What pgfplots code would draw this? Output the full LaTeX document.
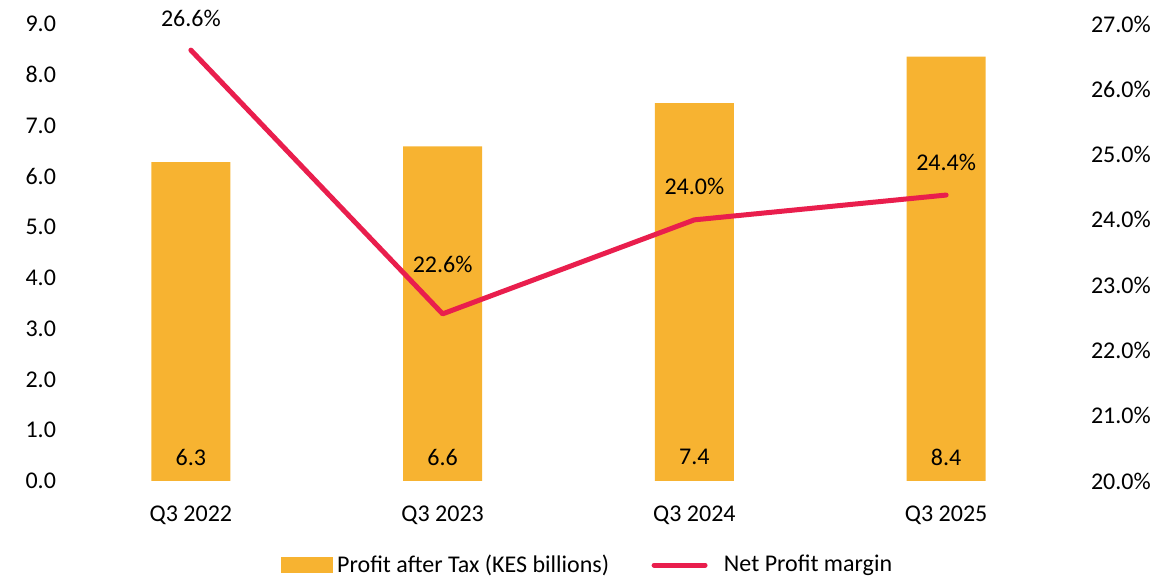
\documentclass[border=0pt]{standalone}
\usepackage{pgfplots}
\pgfplotsset{compat=1.18}
\usepackage{fontspec}
\setmainfont{Carlito}
\definecolor{barorange}{RGB}{247,179,49}
\definecolor{linered}{RGB}{233,30,77}

\pgfplotstableread{
x  pat
0  6.28
1  6.59
2  7.44
3  8.36
}\profit

\pgfplotstableread{
x  npm    off
0  26.60  16
1  22.56  24.5
2  24.00  16.5
3  24.38  16.5
}\margin

\begin{document}
\begin{tikzpicture}[font=\fontsize{12}{14}\selectfont]
\useasboundingbox (-32.5pt,-48pt) rectangle (545pt,240.5pt);
\pgfplotsset{
  base/.style={
    scale only axis, width=503.5pt, height=228.5pt,
    xmin=-0.5, xmax=3.5,
    axis line style={draw=none},
    major tick length=0pt,
    /pgf/number format/assume math mode=true,
    clip=false,
  }
}
\begin{axis}[base,
  ymin=0, ymax=9, ytick={0,1,...,9},
  yticklabel={\pgfmathprintnumber[fixed,fixed zerofill,precision=1]{\tick}},
  yticklabel style={xshift=-1pt},
  xtick={0,1,2,3},
  xticklabels={Q3 2022,Q3 2023,Q3 2024,Q3 2025},
  xticklabel style={yshift=-9pt},
  legend columns=2,
  legend style={draw=none, at={(0.52,-0.184)}, anchor=center,
    /tikz/every even column/.append style={column sep=19pt},
    nodes={inner sep=2pt}},
]
\addplot[ybar, bar width=39.5pt, fill=barorange, draw=none,
  nodes near coords={\pgfmathprintnumber[fixed,fixed zerofill,precision=1]{\pgfplotspointmeta}},
  visualization depends on=rawy\as\rawy,
  every node near coord/.append style={shift={(axis direction cs:0,-\rawy)}, anchor=center, yshift=12pt, color=black},
  legend image code/.code={\fill[barorange] (0pt,-3.8pt) rectangle (26pt,3.8pt);}]
  table[x=x, y=pat] {\profit};
\addlegendentry{Profit after Tax (KES billions)}
\addlegendimage{legend image code/.code={\fill[white, opacity=0] (0pt,-1pt) rectangle (34pt,1pt); \draw[linered, line width=2.5pt, line cap=round] (1.25pt,0pt) -- (26.75pt,0pt);}}
\addlegendentry{Net Profit margin}
\end{axis}

\begin{axis}[base,
  axis y line*=right,
  ymin=20, ymax=27, ytick={20,21,...,27},
  yticklabel={\pgfmathprintnumber[fixed,fixed zerofill,precision=1]{\tick}\%},
  yticklabel style={xshift=6pt},
  xtick=\empty,
]
\addplot[linered, line width=2.5pt, line cap=round, line join=round, mark=none,
  nodes near coords={\pgfmathprintnumber[fixed,fixed zerofill,precision=1]{\pgfplotspointmeta}\%},
  visualization depends on={\thisrow{off}\as\off},
  every node near coord/.append style={anchor=center, yshift=\off pt, color=black}]
  table[x=x, y=npm] {\margin};
\end{axis}
\end{tikzpicture}
\end{document}
